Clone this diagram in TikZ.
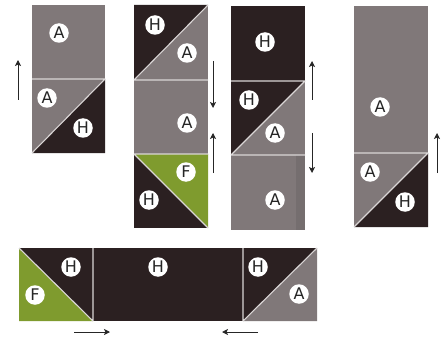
\documentclass[tikz,border=0pt]{standalone}
\usepackage{fontspec}
\setsansfont{DejaVu Sans}
\usetikzlibrary{arrows.meta}
\definecolor{grayA}{HTML}{807879}
\definecolor{darkH}{HTML}{2B2021}
\definecolor{greenF}{HTML}{7F9B2E}
\definecolor{seam}{HTML}{DAD6D6}
\tikzset{
  lbl/.style={circle, fill=white, inner sep=0pt, minimum size=19.5pt,
    font=\sffamily\fontsize{16}{16}\selectfont, text=black!85},
  seamline/.style={draw=seam, line width=1.1pt},
  arr/.style={-{Stealth[length=6pt,width=6pt,inset=1.5pt]}, line width=1pt, draw=black!85}
}
\begin{document}
\begin{tikzpicture}[x=1pt,y=-1pt]
\useasboundingbox (0,0) rectangle (446,339);

% ---------- column 1 ----------
\fill[grayA] (32,5) rectangle (105,153);
\fill[darkH] (32,153) -- (105,79) -- (105,153) -- cycle;
\draw[seamline] (32,79) -- (105,79) (32,153) -- (105,79);
\node[lbl] (c1a) at (59,33) {A};
\node[lbl] (c1b) at (47,98) {A};
\node[lbl] (c1c) at (83,128) {H};

% ---------- column 2 ----------
\fill[grayA] (134,5) rectangle (208,154);
\fill[darkH] (134,5) -- (208,5) -- (134,80) -- cycle;
\fill[darkH] (134,154) rectangle (208,228);
\fill[greenF] (134,154) -- (208,154) -- (208,228) -- cycle;
\draw[seamline] (134,80) -- (208,5) (134,80) -- (208,80) (134,154) -- (208,154) (134,154) -- (208,228);
\node[lbl] (c2a) at (155,25) {H};
\node[lbl] (c2b) at (187,53) {A};
\node[lbl] (c2c) at (187,123) {A};
\node[lbl] (c2d) at (186,172) {F};
\node[lbl] (c2e) at (149,200) {H};

% ---------- column 3 ----------
\fill[grayA] (231,6) rectangle (305,230);
\fill[darkH] (231,6) rectangle (305,81);
\fill[darkH] (231,81) -- (305,81) -- (231,155) -- cycle;
\fill[black, opacity=0.08] (296,155) rectangle (305,230);
\draw[seamline] (231,81) -- (305,81) (231,155) -- (305,81) (231,155) -- (305,155);
\node[lbl] (c3a) at (265,42) {H};
\node[lbl] (c3b) at (249,100) {H};
\node[lbl] (c3c) at (275,133) {A};
\node[lbl] (c3d) at (275,200) {A};

% ---------- column 4 ----------
\fill[grayA] (354,6) rectangle (428,227);
\fill[darkH] (354,227) -- (428,153) -- (428,227) -- cycle;
\draw[seamline] (354,153) -- (428,153) (354,227) -- (428,153);
\node[lbl] (c4a) at (380,107) {A};
\node[lbl] (c4b) at (370,172) {A};
\node[lbl] (c4c) at (405,202) {H};

% ---------- bottom row ----------
\fill[darkH] (19,248) rectangle (317,321);
\fill[greenF] (19,248) -- (93,321) -- (19,321) -- cycle;
\fill[grayA] (243,321) -- (317,248) -- (317,321) -- cycle;
\draw[seamline] (19,248) -- (93,321) (93,248) -- (93,321) (243,248) -- (243,321) (243,321) -- (317,248);
\node[lbl] (b1) at (71,267) {H};
\node[lbl] (b2) at (35,295) {F};
\node[lbl] (b3) at (158,267) {H};
\node[lbl] (b4) at (258,267) {H};
\node[lbl] (b5) at (299,294) {A};

% ---------- arrows ----------
\coordinate (a1s) at (18,100); \coordinate (a1e) at (18,60);
\coordinate (a2s) at (213,61); \coordinate (a2e) at (213,108);
\coordinate (a3s) at (213,173); \coordinate (a3e) at (213,133);
\coordinate (a4s) at (312,100); \coordinate (a4e) at (312,61);
\coordinate (a5s) at (312,133); \coordinate (a5e) at (312,173);
\coordinate (a6s) at (437,173); \coordinate (a6e) at (437,133);
\coordinate (a7s) at (74,332); \coordinate (a7e) at (110,332);
\coordinate (a8s) at (258,332); \coordinate (a8e) at (222,332);
\foreach \s/\e in {a1s/a1e,a2s/a2e,a3s/a3e,a4s/a4e,a5s/a5e,a6s/a6e,a7s/a7e,a8s/a8e}
  \draw[arr] (\s) -- (\e);
\end{tikzpicture}
\end{document}
